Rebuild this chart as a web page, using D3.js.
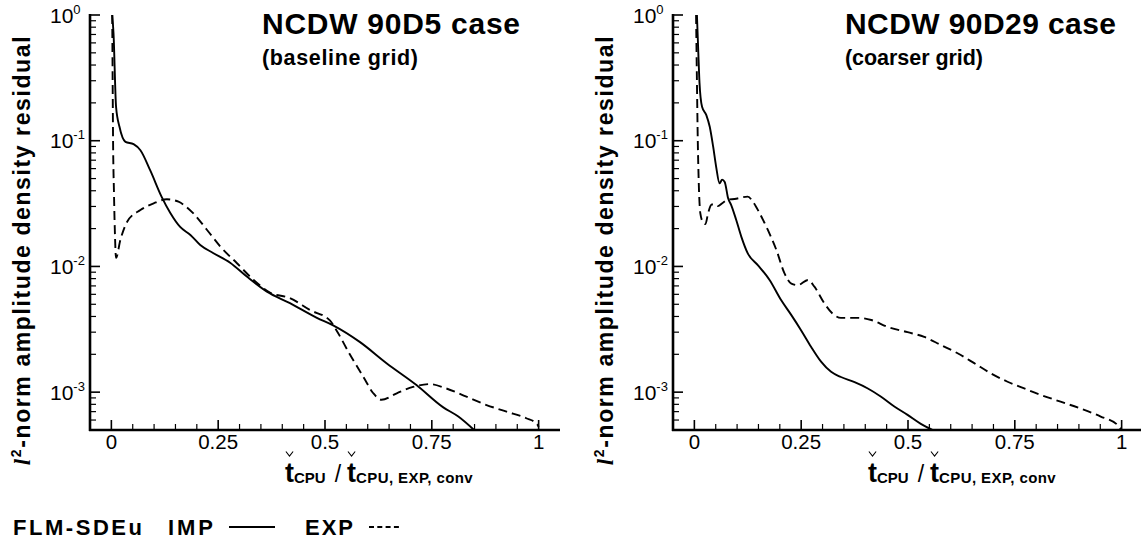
<!DOCTYPE html>
<html>
<head>
<meta charset="utf-8">
<script src="https://cdn.jsdelivr.net/npm/d3@7"></script>
<style>
  body { margin: 0; background: #fff; }
  svg { display: block; }
  text { font-family: "Liberation Sans", Arial, Helvetica, sans-serif; fill: #000; }
</style>
</head>
<body>
<svg id="chart" width="1141" height="545"></svg>
<script>
// Axis ticks
const xTickValues = [0, 0.25, 0.5, 0.75, 1];
const xTickLabels = ["0", "0.25", "0.5", "0.75", "1"];
const yDecadeExponents = [0, -1, -2, -3];

// NCDW 90D5 (baseline grid): normalised CPU time vs. residual
const d5ImpX = [0.002, 0.005, 0.011, 0.019, 0.033, 0.052, 0.068, 0.091, 0.118, 0.138, 0.161, 0.185, 0.208, 0.238, 0.278, 0.317, 0.364, 0.418, 0.481, 0.519, 0.582, 0.644, 0.714, 0.776, 0.812, 0.849];
const d5ImpY = [1.0, 0.72, 0.186, 0.129, 0.098, 0.094, 0.084, 0.058, 0.0356, 0.0266, 0.0206, 0.0178, 0.0148, 0.0128, 0.0107, 0.0083, 0.0063, 0.0051, 0.0039, 0.0034, 0.0025, 0.0017, 0.00114, 0.00076, 0.00064, 0.0005];
const d5ExpX = [0.002, 0.003, 0.004, 0.006, 0.008, 0.011, 0.021, 0.037, 0.068, 0.099, 0.130, 0.157, 0.192, 0.224, 0.255, 0.294, 0.333, 0.371, 0.418, 0.465, 0.512, 0.527, 0.558, 0.590, 0.613, 0.632, 0.668, 0.706, 0.745, 0.784, 0.831, 0.878, 0.925, 0.971, 0.996, 1.0];
const d5ExpY = [1.0, 0.3, 0.1, 0.04, 0.02, 0.0117, 0.0162, 0.0227, 0.0281, 0.0318, 0.0342, 0.0327, 0.0264, 0.0195, 0.0144, 0.0106, 0.0078, 0.0062, 0.0056, 0.0045, 0.0037, 0.0031, 0.0020, 0.00132, 0.00098, 0.00087, 0.00098, 0.0011, 0.00116, 0.00107, 0.00092, 0.00079, 0.0007, 0.00062, 0.00056, 0.00053];

// NCDW 90D29 (coarser grid)
const d29ImpX = [0.006, 0.009, 0.012, 0.018, 0.028, 0.036, 0.044, 0.051, 0.059, 0.065, 0.071, 0.079, 0.086, 0.098, 0.110, 0.125, 0.149, 0.176, 0.203, 0.227, 0.25, 0.273, 0.297, 0.32, 0.343, 0.375, 0.406, 0.437, 0.468, 0.499, 0.530, 0.558];
const d29ImpY = [1.0, 0.53, 0.29, 0.186, 0.16, 0.129, 0.0896, 0.062, 0.0458, 0.049, 0.047, 0.0348, 0.0309, 0.0234, 0.0172, 0.0127, 0.0102, 0.0078, 0.0054, 0.0041, 0.0031, 0.0023, 0.00174, 0.00145, 0.00132, 0.0012, 0.00107, 0.00092, 0.00077, 0.00066, 0.00056, 0.0005];
const d29ExpX = [0.004, 0.006, 0.008, 0.010, 0.014, 0.020, 0.026, 0.032, 0.040, 0.047, 0.055, 0.066, 0.079, 0.094, 0.125, 0.137, 0.153, 0.172, 0.192, 0.211, 0.227, 0.242, 0.266, 0.281, 0.304, 0.324, 0.343, 0.382, 0.414, 0.453, 0.499, 0.538, 0.577, 0.616, 0.655, 0.694, 0.733, 0.772, 0.811, 0.857, 0.904, 0.951, 0.99, 1.0];
const d29ExpY = [1.0, 0.3, 0.1, 0.05, 0.0264, 0.0225, 0.0217, 0.0264, 0.031, 0.0313, 0.0302, 0.032, 0.034, 0.0344, 0.0359, 0.0327, 0.0264, 0.0195, 0.0135, 0.0088, 0.0073, 0.0071, 0.0078, 0.0069, 0.0051, 0.0042, 0.0039, 0.0039, 0.00375, 0.0033, 0.0030, 0.00275, 0.00237, 0.00204, 0.0017, 0.00141, 0.00121, 0.00107, 0.00095, 0.00084, 0.00074, 0.00064, 0.00055, 0.0005];

const panels = [
  { offset: 0,   title: "NCDW 90D5 case",  subtitle: "(baseline grid)", titleLen: 258, subLen: 156,
    imp: d3.zip(d5ImpX, d5ImpY),  exp: d3.zip(d5ExpX, d5ExpY) },
  { offset: 583, title: "NCDW 90D29 case", subtitle: "(coarser grid)",  titleLen: 271, subLen: 138,
    imp: d3.zip(d29ImpX, d29ImpY), exp: d3.zip(d29ExpX, d29ExpY) }
];

const svg = d3.select("#chart");

const x = d3.scaleLinear().domain([-0.05, 1.05]).range([90, 560]);
const y = d3.scaleLog().domain([5e-4, 1]).range([430, 15]);

const yMinor = [];
for (let e = 0; e >= -4; e--) {
  for (let k = 2; k <= 9; k++) {
    const v = k * Math.pow(10, e - 1);
    if (v > 5e-4 && v < 1) yMinor.push(v);
  }
}
const xMinor = d3.range(1, 21).map(i => +(i * 0.05).toFixed(2)).filter(v => !xTickValues.includes(v));

const line = d3.line().x(d => x(d[0])).y(d => y(d[1])).curve(d3.curveMonotoneX);

panels.forEach(p => {
  const g = svg.append("g").attr("transform", `translate(${p.offset},0)`);

  // curves
  g.append("path").datum(p.imp).attr("d", line)
    .attr("fill", "none").attr("stroke", "#000").attr("stroke-width", 1.9);
  g.append("path").datum(p.exp).attr("d", line)
    .attr("fill", "none").attr("stroke", "#000").attr("stroke-width", 1.9)
    .attr("stroke-dasharray", "9,5");

  // y axis: inward ticks
  g.selectAll(".ymaj").data(yDecadeExponents).join("line")
    .attr("x1", 90).attr("x2", 100)
    .attr("y1", d => y(Math.pow(10, d))).attr("y2", d => y(Math.pow(10, d)))
    .attr("stroke", "#000").attr("stroke-width", 1.6);
  g.selectAll(".ymin").data(yMinor).join("line")
    .attr("x1", 90).attr("x2", 96)
    .attr("y1", d => y(d)).attr("y2", d => y(d))
    .attr("stroke", "#000").attr("stroke-width", 1.2);
  g.append("line").attr("x1", 90).attr("x2", 90).attr("y1", y(1) - 1).attr("y2", 431)
    .attr("stroke", "#000").attr("stroke-width", 2.6);

  // y tick labels 10^n
  const yl = g.selectAll(".ylab").data(yDecadeExponents).join("text")
    .attr("x", 50).attr("y", d => y(Math.pow(10, d)) + 7.5)
    .attr("font-size", 21);
  yl.append("tspan").text("10");
  yl.append("tspan").attr("dy", -9).attr("font-size", 13).text(d => d === 0 ? "0" : "-" + (-d));

  // x axis: inward ticks
  g.selectAll(".xmaj").data(xTickValues).join("line")
    .attr("x1", d => x(d)).attr("x2", d => x(d)).attr("y1", 430).attr("y2", 420)
    .attr("stroke", "#000").attr("stroke-width", 1.6);
  g.selectAll(".xmin").data(xMinor).join("line")
    .attr("x1", d => x(d)).attr("x2", d => x(d)).attr("y1", 430).attr("y2", 424)
    .attr("stroke", "#000").attr("stroke-width", 1.2);
  g.append("line").attr("x1", 89).attr("x2", 560).attr("y1", 430).attr("y2", 430)
    .attr("stroke", "#000").attr("stroke-width", 2.6);
  g.selectAll(".xlab").data(xTickValues).join("text")
    .attr("x", d => x(d)).attr("y", 449).attr("text-anchor", "middle")
    .attr("font-size", 20.5).text((d, i) => xTickLabels[i]);

  // y axis title
  const yt = g.append("text")
    .attr("transform", "translate(30,250) rotate(-90)")
    .attr("text-anchor", "middle").attr("font-weight", "bold").attr("font-size", 23)
    .attr("letter-spacing", 1.6);
  yt.append("tspan").attr("font-style", "italic").attr("font-family", "'Liberation Serif', 'Times New Roman', serif").text("l");
  yt.append("tspan").attr("dy", -9).attr("font-size", 14).text("2");
  yt.append("tspan").attr("dy", 9).text("-norm amplitude density residual");

  // x axis title: t_CPU / t_CPU, EXP, conv, each t carrying a caron accent
  const xt = g.append("text").attr("x", 285).attr("y", 482).attr("font-weight", "bold");
  xt.append("tspan").attr("font-size", 27).text("t");
  xt.append("tspan").attr("font-size", 15).attr("dy", 1).text("CPU");
  xt.append("tspan").attr("font-size", 23).attr("font-weight", "normal").attr("dx", 9).attr("dy", -1).text("/");
  xt.append("tspan").attr("font-size", 27).attr("dx", 6).text("t");
  xt.append("tspan").attr("font-size", 15).attr("dy", 1).attr("letter-spacing", 0.4).text("CPU, EXP, conv");

  // caron marks above both t glyphs, placed from the laid-out character boxes
  const node = xt.node();
  const full = node.textContent;
  [0, full.indexOf("t", 1)].forEach(idx => {
    const box = node.getExtentOfChar(idx);
    const cx = box.x + box.width / 2;
    g.append("path")
      .attr("d", `M${cx - 3.6},451.5 L${cx},456 L${cx + 3.6},451.5`)
      .attr("fill", "none").attr("stroke", "#000").attr("stroke-width", 1.1);
  });

  // titles
  g.append("text").attr("x", 262).attr("y", 34).attr("font-size", 30).attr("font-weight", "bold")
    .attr("textLength", p.titleLen).attr("lengthAdjust", "spacing").text(p.title);
  g.append("text").attr("x", 262).attr("y", 65).attr("font-size", 21.5).attr("font-weight", "bold")
    .attr("textLength", p.subLen).attr("lengthAdjust", "spacing").text(p.subtitle);
});

// legend
const lg = svg.append("g").attr("font-weight", "bold").attr("font-size", 22);
lg.append("text").attr("x", 13).attr("y", 535).attr("textLength", 129).attr("lengthAdjust", "spacing").text("FLM-SDEu");
lg.append("text").attr("x", 168).attr("y", 535).attr("textLength", 45).attr("lengthAdjust", "spacing").text("IMP");
lg.append("line").attr("x1", 229).attr("x2", 275).attr("y1", 527).attr("y2", 527).attr("stroke", "#000").attr("stroke-width", 2);
lg.append("text").attr("x", 305).attr("y", 535).attr("textLength", 48).attr("lengthAdjust", "spacing").text("EXP");
lg.append("line").attr("x1", 369).attr("x2", 399).attr("y1", 527).attr("y2", 527).attr("stroke", "#000").attr("stroke-width", 2)
  .attr("stroke-dasharray", "5,3.3");
</script>
</body>
</html>
